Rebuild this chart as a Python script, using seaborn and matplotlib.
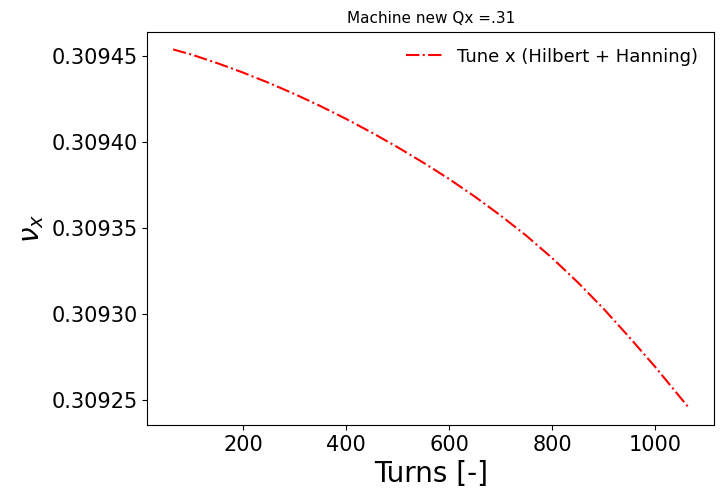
import pandas as pd
import matplotlib
matplotlib.use("Agg")
import matplotlib.pyplot as plt
import seaborn as sns

# Tune vs turns
turns = [64, 100, 150, 200, 250, 300, 350, 400, 450, 500, 550,
         600, 650, 700, 750, 800, 850, 900, 950, 1000, 1064]
tune_x = [0.3094540, 0.3094510, 0.3094460, 0.3094405, 0.3094345,
          0.3094280, 0.3094210, 0.3094135, 0.3094055, 0.3093970,
          0.3093880, 0.3093785, 0.3093682, 0.3093572, 0.3093454,
          0.3093324, 0.3093182, 0.3093028, 0.3092862, 0.3092690,
          0.3092456]

df = pd.DataFrame({"Turns": turns, "Tune": tune_x})

fig = plt.figure(figsize=(7.2, 4.93), dpi=100)
ax = fig.add_axes([0.2046, 0.138, 0.787, 0.798])

sns.lineplot(data=df, x="Turns", y="Tune", ax=ax, color="red",
             linestyle="-.", linewidth=1.5,
             label="Tune x (Hilbert + Hanning)")

ax.ticklabel_format(axis="y", useOffset=False)
ax.set_title("Machine new Qx =.31", fontsize=11)
ax.set_xlabel("Turns [-]", fontsize=20)
ax.set_ylabel(r"$\nu_x$", fontsize=20)
ax.tick_params(labelsize=15)
ax.set_xticks([200, 400, 600, 800, 1000])
ax.legend(loc="upper right", frameon=False, fontsize=13)

fig.savefig("out.png", dpi=100)
